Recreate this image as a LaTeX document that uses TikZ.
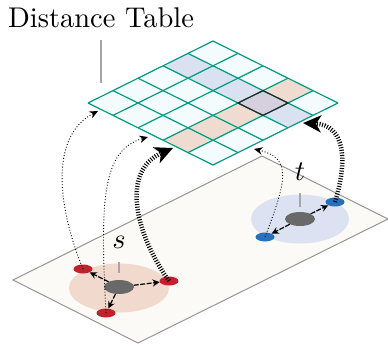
\documentclass[tikz,border=0pt]{standalone}
\usetikzlibrary{arrows.meta,shapes.geometric}
\definecolor{gridline}{RGB}{0,155,130}
\definecolor{cellbg}{RGB}{244,251,252}
\definecolor{cellblue}{RGB}{218,225,241}
\definecolor{cellpink}{RGB}{240,219,209}
\definecolor{celldark}{RGB}{214,208,222}
\definecolor{planefill}{RGB}{252,250,246}
\definecolor{planeedge}{RGB}{150,150,150}
\definecolor{spink}{RGB}{241,218,205}
\definecolor{tblue}{RGB}{220,226,241}
\definecolor{reddot}{RGB}{195,32,45}
\definecolor{bluedot}{RGB}{40,112,186}
\definecolor{centgray}{RGB}{105,105,105}
\newcommand\mycell[3]{\fill[#3] (#1,#2) -- ++(1,0) -- ++(0,1) -- ++(-1,0) -- cycle;}
\begin{document}
\begin{tikzpicture}[x=1pt,y=-1pt,
  bigtext/.style={font=\fontsize{10}{12}\selectfont, inner sep=0pt, scale=2.85},
  dotnode/.style={ellipse, minimum width=19pt, minimum height=9pt, inner sep=0pt},
  centnode/.style={ellipse, fill=centgray, minimum width=30pt, minimum height=14pt, inner sep=0pt},
  disc/.style={ellipse, inner sep=0pt, minimum width=100pt, minimum height=49pt},
  leader/.style={draw=planeedge!85, line width=1.1pt},
  thinarrow/.style={line width=0.9pt, dash pattern=on 0.9pt off 2pt, -{Stealth[length=8.5pt,width=7.5pt]}},
  thickarrow/.style={line width=4.5pt, dash pattern=on 1pt off 1.6pt, -{Stealth[length=18pt,width=17pt,inset=5pt]}},
  shortarrow/.style={line width=1.2pt, dash pattern=on 5pt off 1.5pt, -{Stealth[length=7pt,width=7pt]}}]
\useasboundingbox (0,0) rectangle (388,346);
% bottom plane
\filldraw[fill=planefill, draw=planeedge, line width=1pt] (13,280) -- (138,343) -- (388,219) -- (262,156) -- cycle;
% discs
\node[disc, fill=spink] (sdisc) at (119,288) {};
\node[disc, fill=tblue, minimum width=98pt] (tdisc) at (300,219) {};
\node[centnode] (sc) at (119,287) {};
\node[centnode] (tc) at (300,219) {};
\node[dotnode, fill=reddot] (s1) at (83,269) {};
\node[dotnode, fill=reddot] (s2) at (169,281) {};
\node[dotnode, fill=reddot] (s3) at (106,313) {};
\node[dotnode, fill=bluedot] (t1) at (335,202) {};
\node[dotnode, fill=bluedot] (t2) at (265,237) {};
% short arrows
\draw[shortarrow] (sc) -- (s1);
\draw[shortarrow] (sc) -- (s2);
\draw[shortarrow] (sc) -- (s3);
\draw[shortarrow] (tc) -- (t1);
\draw[shortarrow] (tc) -- (t2);
% labels
\node[bigtext, anchor=base] (title) at (101,27) {Distance Table};
\node[bigtext, anchor=base] (slab) at (119,248) {$s$};
\node[bigtext, anchor=base] (tlab) at (300,180) {$t$};
\coordinate (titleend) at (101,83);
\coordinate (send) at (119,273);
\coordinate (tend) at (300,207);
\draw[leader] (101,40) -- (titleend);
\draw[leader] (119,262) -- (send);
\draw[leader] (300,193) -- (tend);
% grid
\begin{scope}[shift={(88,103)}, x={(25pt,-12.4pt)}, y={(25pt,12.4pt)}]
  \fill[cellbg] (0,0) -- (5,0) -- (5,5) -- (0,5) -- cycle;
  \foreach \j in {0,1,2,4} {\mycell{\j}{3}{cellblue}}
  \foreach \i in {0,1,2,4} {\mycell{3}{\i}{cellpink}}
  \mycell{3}{3}{celldark}
  \foreach \k in {0,...,5} {
    \draw[gridline, line width=1.2pt] (\k,0) -- (\k,5);
    \draw[gridline, line width=1.2pt] (0,\k) -- (5,\k);
  }
  \draw[black!85, line width=1.2pt] (3,3) -- (4,3) -- (4,4) -- (3,4) -- cycle;
\end{scope}
% arrow targets
\coordinate (g1) at (98,111);
\coordinate (g2) at (148,137);
\coordinate (g3) at (173,148);
\coordinate (g4) at (254,149);
\coordinate (g5) at (303,123);
% long arrows
\draw[thinarrow] (s1.center) .. controls (55,200) and (52,135) .. (g1);
\draw[thinarrow] (s3.center) .. controls (100,200) and (102,150) .. (g2);
\draw[thickarrow] (s2.center) .. controls (133,230) and (122,170) .. (g3);
\draw[thinarrow] (t2.center) .. controls (287,180) and (292,158) .. (g4);
\draw[thickarrow] (t1.center) .. controls (348,160) and (345,125) .. (g5);
\end{tikzpicture}
\end{document}
